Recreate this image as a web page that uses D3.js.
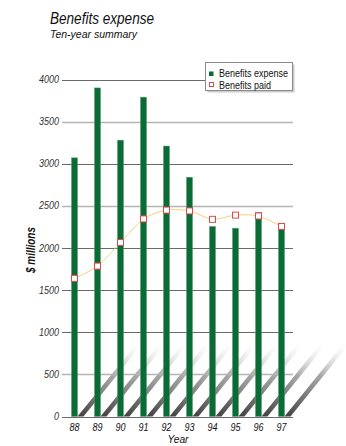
<!DOCTYPE html>
<html>
<head>
<meta charset="utf-8">
<script src="https://cdn.jsdelivr.net/npm/d3@7"></script>
<style>
  html, body { margin: 0; padding: 0; background: #fff; }
  svg { display: block; }
  text { font-family: "Liberation Sans Narrow", "Arial Narrow", "Liberation Sans", sans-serif; }
</style>
</head>
<body>
<svg id="chart" width="346" height="446"></svg>
<script>
// Benefits expense and benefits paid, $ millions, fiscal 1988–1997
const years = ["88", "89", "90", "91", "92", "93", "94", "95", "96", "97"];
const benefitsExpense = [3070, 3900, 3280, 3790, 3210, 2840, 2255, 2235, 2420, 2295];
const benefitsPaid = [1640, 1785, 2065, 2345, 2450, 2440, 2340, 2390, 2380, 2255];
const yTicks = [0, 500, 1000, 1500, 2000, 2500, 3000, 3500, 4000];
const lightGridValues = [500, 2500, 3500];

const svg = d3.select("#chart");

const x = d3.scaleBand().domain(years).range([63, 293]).paddingInner(0.74).paddingOuter(0.37);
const y = d3.scaleLinear().domain([0, 4000]).range([416.5, 79.5]);

// condensed look: squeeze each label to a set width
function squeeze(sel, width) {
  sel.attr("textLength", width).attr("lengthAdjust", "spacingAndGlyphs");
  return sel;
}

const defs = svg.append("defs");
const grad = defs.append("linearGradient")
  .attr("id", "shadowGrad")
  .attr("x1", "0").attr("y1", "1").attr("x2", "1").attr("y2", "0");
grad.append("stop").attr("offset", "0%").attr("stop-color", "#333").attr("stop-opacity", 0.95);
grad.append("stop").attr("offset", "55%").attr("stop-color", "#8a8a8a").attr("stop-opacity", 0.75);
grad.append("stop").attr("offset", "100%").attr("stop-color", "#fff").attr("stop-opacity", 0);

// diagonal cast shadows behind each bar
const sdx = 60, sdy = 74, sw = 6;
svg.append("g").selectAll("polygon")
  .data(years)
  .join("polygon")
  .attr("points", d => {
    const x0 = x(d) + x.bandwidth();
    const y0 = y(0);
    return [[x0, y0], [x0 + sw, y0], [x0 + sw + sdx, y0 - sdy], [x0 + sdx, y0 - sdy]].join(" ");
  })
  .attr("fill", "url(#shadowGrad)");

// gridlines
svg.append("g").selectAll("line")
  .data(yTicks)
  .join("line")
  .attr("x1", 62).attr("x2", 293)
  .attr("y1", d => Math.round(y(d)) + 0.5).attr("y2", d => Math.round(y(d)) + 0.5)
  .attr("stroke", d => lightGridValues.includes(d) ? "#b5b5b5" : "#6a6a6a")
  .attr("stroke-width", d => lightGridValues.includes(d) ? 1.6 : 1);

// y tick labels
svg.append("g").selectAll("text")
  .data(yTicks)
  .join("text")
  .attr("x", 59).attr("y", d => y(d) + 3.5)
  .attr("text-anchor", "end")
  .attr("font-size", 11)
  .attr("font-style", "italic")
  .attr("fill", "#333")
  .attr("textLength", d => String(d).length * 5)
  .attr("lengthAdjust", "spacingAndGlyphs")
  .text(d => d);

// bars
svg.append("g").selectAll("rect")
  .data(benefitsExpense)
  .join("rect")
  .attr("x", (d, i) => x(years[i]))
  .attr("width", x.bandwidth())
  .attr("y", d => y(d))
  .attr("height", d => y(0) - y(d))
  .attr("fill", "#0a6b34")
  .attr("stroke", "#5a9a72")
  .attr("stroke-width", 0.5);

// benefits paid line
const pts = benefitsPaid.map((v, i) => [x(years[i]) + x.bandwidth() / 2, y(v)]);
svg.append("path")
  .attr("d", d3.line().curve(d3.curveCardinal.tension(0.2))(pts))
  .attr("fill", "none")
  .attr("stroke", "#f6d27a")
  .attr("stroke-width", 1);

svg.append("g").selectAll("rect")
  .data(pts)
  .join("rect")
  .attr("x", d => d[0] - 3).attr("y", d => d[1] - 3)
  .attr("width", 6).attr("height", 6)
  .attr("fill", "#fff")
  .attr("stroke", "#e0484c")
  .attr("stroke-width", 1);

// x tick labels
svg.append("g").selectAll("text")
  .data(years)
  .join("text")
  .attr("x", d => x(d) + x.bandwidth() / 2)
  .attr("y", 431)
  .attr("text-anchor", "middle")
  .attr("font-size", 11.5)
  .attr("font-style", "italic")
  .attr("fill", "#111")
  .attr("textLength", 10)
  .attr("lengthAdjust", "spacingAndGlyphs")
  .text(d => d);

// axis titles
squeeze(svg.append("text")
  .attr("x", 178).attr("y", 442.5)
  .attr("text-anchor", "middle")
  .attr("font-size", 11.5)
  .attr("font-style", "italic")
  .attr("fill", "#111")
  .text("Year"), 21);

squeeze(svg.append("text")
  .attr("transform", "translate(35,250) rotate(-90)")
  .attr("text-anchor", "middle")
  .attr("font-size", 12)
  .attr("font-style", "italic")
  .attr("font-weight", "bold")
  .attr("fill", "#111")
  .text("$ millions"), 46);

// title
squeeze(svg.append("text")
  .attr("x", 50).attr("y", 24)
  .attr("font-size", 16)
  .attr("font-style", "italic")
  .attr("fill", "#111")
  .text("Benefits expense"), 104);
squeeze(svg.append("text")
  .attr("x", 50).attr("y", 37.5)
  .attr("font-size", 11)
  .attr("font-style", "italic")
  .attr("fill", "#111")
  .text("Ten-year summary"), 87);

// legend
const lg = svg.append("g");
lg.append("rect").attr("x", 207.5).attr("y", 64.5).attr("width", 87).attr("height", 28)
  .attr("fill", "#ccc");
lg.append("rect").attr("x", 205.5).attr("y", 62.5).attr("width", 87).attr("height", 28)
  .attr("fill", "#fff").attr("stroke", "#8a8a8a");
lg.append("rect").attr("x", 209).attr("y", 71.5).attr("width", 4.5).attr("height", 4.5)
  .attr("fill", "#0a6b34");
lg.append("rect").attr("x", 209.5).attr("y", 82.5).attr("width", 4).attr("height", 4)
  .attr("fill", "#fff").attr("stroke", "#e0484c");
squeeze(lg.append("text").attr("x", 219).attr("y", 77).attr("font-size", 11.5).attr("fill", "#111")
  .text("Benefits expense"), 69);
squeeze(lg.append("text").attr("x", 219).attr("y", 88.5).attr("font-size", 11.5).attr("fill", "#111")
  .text("Benefits paid"), 52);
</script>
</body>
</html>
